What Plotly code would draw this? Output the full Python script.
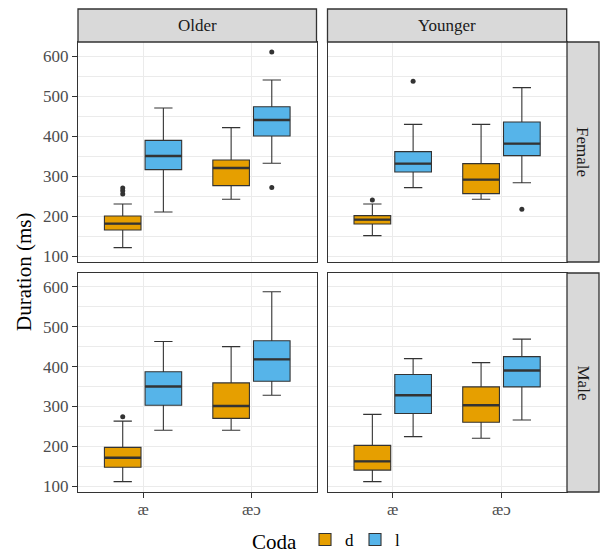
import plotly.graph_objects as go

# ---- data ----
vowels = ["æ", "æɔ"]
codas = ["d", "l"]
ages = ["Older", "Younger"]
sexes = ["Female", "Male"]

# order: sex (Female, Male) x age (Older, Younger) x vowel (æ, æɔ) x coda (d, l)
lower = [121, 210, 242, 332,   151, 271, 242, 283,
         111, 240, 240, 328,   111, 224, 220, 266]
q1 = [165, 316, 276, 400,   180, 310, 256, 351,
      147, 303, 270, 363,   140, 282, 260, 349]
median = [181, 350, 320, 440,   191, 331, 291, 381,
          171, 350, 301, 418,   162, 328, 303, 390]
q3 = [200, 389, 340, 473,   201, 361, 331, 435,
      197, 387, 359, 465,   202, 380, 349, 425]
upper = [230, 470, 421, 540,   230, 429, 429, 521,
         263, 463, 450, 588,   280, 420, 410, 469]
outliers = [[255, 263, 270], [], [], [271, 610],
            [240], [537], [], [217],
            [274], [], [], [],
            [], [], [], []]

y_ticks = [100, 200, 300, 400, 500, 600]

# ---- styling ----
fills = {"d": "#E69F00", "l": "#56B4E9"}
dark = "#333333"
grid = "#EBEBEB"
font_family = "Liberation Serif"
W, H = 600, 553

# panel pixel geometry
col_px = [(78, 316.5), (327.5, 566.7)]
row_px = [(42, 262), (273, 492)]
def px2x(p): return p / W
def px2y(p): return 1 - p / H

dodge = 0.375
box_w = 0.3375

fig = go.Figure()
shown = set()
idx = 0
for si, sex in enumerate(sexes):
    for ai, age in enumerate(ages):
        panel = si * 2 + ai + 1
        xa = "x" if panel == 1 else f"x{panel}"
        ya = "y" if panel == 1 else f"y{panel}"
        for vi, vowel in enumerate(vowels):
            for ci, coda in enumerate(codas):
                pos = (vi + 1) + (ci - 0.5) * dodge
                fig.add_trace(go.Box(
                    x=[pos], q1=[q1[idx]], median=[median[idx]], q3=[q3[idx]],
                    lowerfence=[lower[idx]], upperfence=[upper[idx]],
                    width=box_w, fillcolor=fills[coda],
                    line=dict(color=dark, width=1.1),
                    boxpoints=False, name=coda, legendgroup=coda,
                    showlegend=coda not in shown,
                    xaxis=xa, yaxis=ya, hoverinfo="skip"))
                shown.add(coda)
                # thicker median line (ggplot fatten)
                fig.add_trace(go.Scatter(
                    x=[pos - box_w / 2, pos + box_w / 2],
                    y=[median[idx], median[idx]], mode="lines",
                    line=dict(color=dark, width=2.4), showlegend=False,
                    xaxis=xa, yaxis=ya, hoverinfo="skip"))
                if outliers[idx]:
                    fig.add_trace(go.Scatter(
                        x=[pos] * len(outliers[idx]), y=outliers[idx],
                        mode="markers", marker=dict(color=dark, size=5),
                        showlegend=False, xaxis=xa, yaxis=ya, hoverinfo="skip"))
                idx += 1

layout = dict(
    width=W, height=H, margin=dict(l=0, r=0, t=0, b=0, autoexpand=False),
    paper_bgcolor="white", plot_bgcolor="white",
    font=dict(family=font_family, color="black"),
    boxmode="overlay",
    showlegend=True,
    legend=dict(orientation="h", xref="container", yref="container",
                x=250 / W, xanchor="left",
                y=1 - 541 / H, yanchor="middle",
                title=dict(text="Coda", side="left",
                           font=dict(size=21, family=font_family)),
                font=dict(size=17, family=font_family, color="black"),
                itemwidth=30, entrywidth=5, entrywidthmode="pixels",
                tracegroupgap=0, bgcolor="rgba(0,0,0,0)"),
)

for si in range(2):
    for ai in range(2):
        panel = si * 2 + ai + 1
        sfx = "" if panel == 1 else str(panel)
        x0, x1 = col_px[ai]
        y0, y1 = row_px[si]
        layout["xaxis" + sfx] = dict(
            domain=[px2x(x0), px2x(x1)], range=[0.4, 2.6],
            anchor="y" + sfx, tickmode="array", tickvals=[1, 2],
            ticktext=vowels, showticklabels=(si == 1),
            ticks="outside" if si == 1 else "", ticklen=5, tickwidth=1.3,
            tickcolor=dark, ticklabelstandoff=-4,
            tickfont=dict(size=17, color="#4D4D4D", family=font_family),
            showgrid=True, gridcolor=grid, gridwidth=1.4, zeroline=False,
            showline=True, linecolor=dark, linewidth=1.3, mirror=True,
            automargin=False, fixedrange=True)
        layout["yaxis" + sfx] = dict(
            domain=[px2y(y1), px2y(y0)], range=[85, 635],
            anchor="x" + sfx, tickmode="array", tickvals=y_ticks,
            showticklabels=(ai == 0),
            ticks="outside" if ai == 0 else "", ticklen=5, tickwidth=1.3,
            tickcolor=dark,
            tickfont=dict(size=17, color="#4D4D4D", family=font_family),
            showgrid=True, gridcolor=grid, gridwidth=1.4, zeroline=False,
            minor=dict(tickmode="linear", tick0=50, dtick=100, showgrid=True,
                       gridcolor=grid, gridwidth=0.7, ticks=""),
            showline=True, linecolor=dark, linewidth=1.3, mirror=True,
            automargin=False, fixedrange=True)

shapes = []
annotations = []
# top strips
for ai, age in enumerate(ages):
    x0, x1 = col_px[ai]
    shapes.append(dict(type="rect", xref="paper", yref="paper",
                       x0=px2x(x0), x1=px2x(x1), y0=px2y(42), y1=px2y(9),
                       fillcolor="#D9D9D9", line=dict(color=dark, width=1.3)))
    annotations.append(dict(text=age, xref="paper", yref="paper",
                            x=px2x((x0 + x1) / 2), y=px2y(25.5),
                            showarrow=False, xanchor="center", yanchor="middle",
                            font=dict(size=17, color="#1A1A1A", family=font_family)))
# right strips
for si, sex in enumerate(sexes):
    y0, y1 = row_px[si]
    shapes.append(dict(type="rect", xref="paper", yref="paper",
                       x0=px2x(567), x1=px2x(599), y0=px2y(y1), y1=px2y(y0),
                       fillcolor="#D9D9D9", line=dict(color=dark, width=1.3)))
    annotations.append(dict(text=sex, xref="paper", yref="paper",
                            x=px2x(583), y=px2y((y0 + y1) / 2), textangle=90,
                            showarrow=False, xanchor="center", yanchor="middle",
                            font=dict(size=17, color="#1A1A1A", family=font_family)))
# y-axis title
annotations.append(dict(text="Duration (ms)", xref="paper", yref="paper",
                        x=px2x(24), y=px2y(272), textangle=-90, showarrow=False,
                        xanchor="center", yanchor="middle",
                        font=dict(size=21, color="black", family=font_family)))

layout["shapes"] = shapes
layout["annotations"] = annotations
fig.update_layout(**layout)
fig.write_html("out.html", config={"displayModeBar": False},
               post_script="document.body.style.margin='0';"
                           "document.body.style.overflow='hidden';")
